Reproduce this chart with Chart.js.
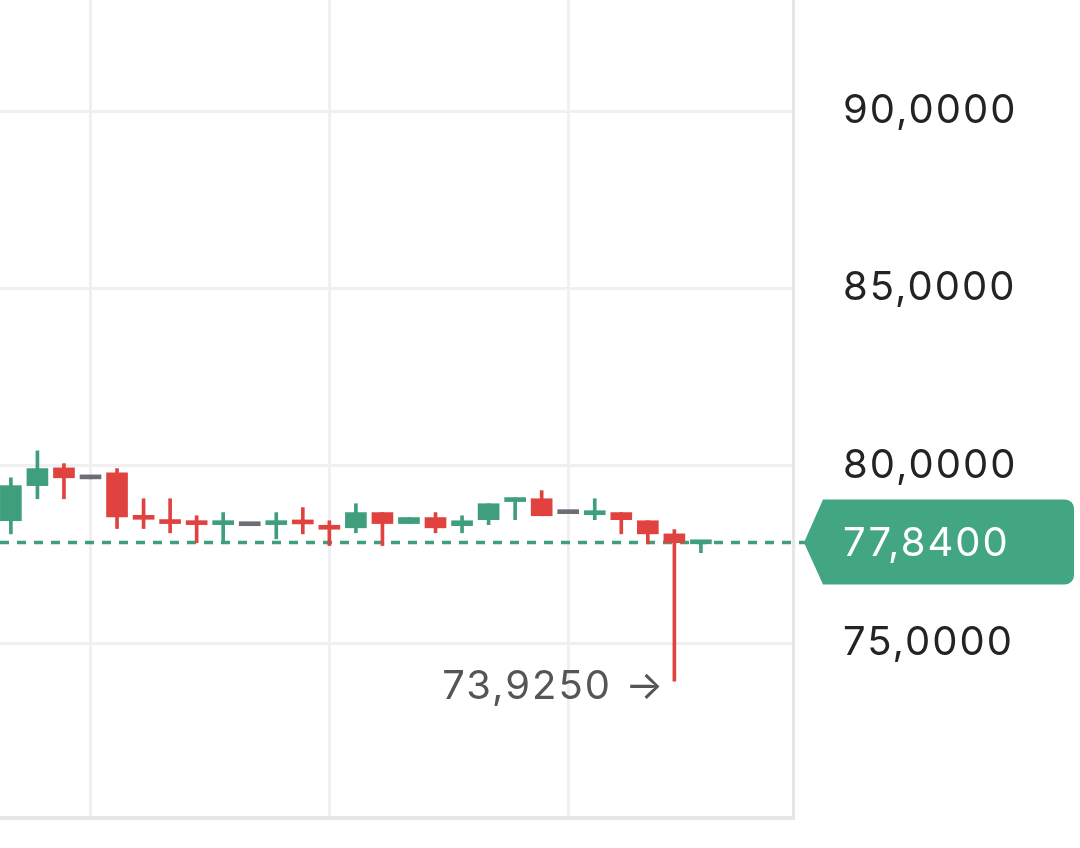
<!DOCTYPE html>
<html>
<head>
<meta charset="utf-8">
<script src="https://cdn.jsdelivr.net/npm/chart.js@4.4.1/dist/chart.umd.min.js"></script>
<style>
  html, body { margin: 0; padding: 0; background: #fff; }
</style>
</head>
<body>
<canvas id="candleChart" width="1080" height="848"></canvas>
<script>
// candle data (index = bar slot)
const candleIdx = [0, 1, 2, 3, 4, 5, 6, 7, 8, 9, 10, 11, 12, 13, 14, 15, 16, 17, 18, 19, 20, 21, 22, 23, 24, 25, 26];
const opens  = [78.45, 79.44, 79.94, 79.63, 79.80, 78.56, 78.45, 78.42, 78.34, 78.31, 78.34, 78.43, 78.28, 78.25, 78.68, 78.37, 78.54, 78.31, 78.48, 78.99, 79.07, 78.65, 78.62, 78.68, 78.45, 78.08, 77.80];
const closes = [79.44, 79.92, 79.66, 79.63, 78.56, 78.49, 78.37, 78.34, 78.40, 78.31, 78.40, 78.36, 78.21, 78.68, 78.37, 78.54, 78.25, 78.45, 78.93, 79.10, 78.59, 78.65, 78.68, 78.48, 78.08, 77.83, 77.84];
const highs  = [79.66, 80.42, 80.06, 79.63, 79.92, 79.07, 79.07, 78.59, 78.68, 78.31, 78.68, 78.82, 78.45, 78.93, 78.68, 78.54, 78.68, 78.59, 78.93, 79.10, 79.30, 78.65, 79.07, 78.68, 78.45, 78.20, 77.84];
const lows   = [78.08, 79.07, 79.07, 79.63, 78.23, 78.23, 78.11, 77.83, 77.83, 78.31, 77.94, 78.08, 77.75, 78.11, 77.75, 78.37, 78.11, 78.11, 78.34, 78.48, 78.59, 78.65, 78.48, 78.08, 77.80, 73.925, 77.55];
const lastPrice = 77.84;
const yTicks = [75, 80, 85, 90];
const xGridIdx = [3, 12, 21];

const GREEN = '#3f9f7c';
const RED = '#e0433f';
const GRAY = '#6d6d76';
const GRID = '#f0f0f3';
const FONT = 'Inter';
const FONT_SIZE = 40;

function fmt(v) {
  return v.toFixed(4).replace('.', ',');
}

function candleColor(i) {
  if (closes[i] > opens[i]) return GREEN;
  if (closes[i] < opens[i]) return RED;
  return GRAY;
}

const colors = candleIdx.map(candleColor);

const priceMarks = {
  id: 'priceMarks',
  beforeDraw(chart) {
    // the reference glyphs run a bit wider than Inter
    chart.ctx.letterSpacing = '2px';
  },
  beforeDatasetsDraw(chart) {
    const {ctx, chartArea, scales: {y}} = chart;
    const py = y.getPixelForValue(lastPrice);
    ctx.save();
    ctx.strokeStyle = GREEN;
    ctx.lineWidth = 3.5;
    ctx.setLineDash([9, 8]);
    ctx.beginPath();
    ctx.moveTo(chartArea.left, py);
    ctx.lineTo(chartArea.right + 12, py);
    ctx.stroke();
    ctx.restore();
  },
  afterDraw(chart) {
    const {ctx, chartArea, scales: {x, y}} = chart;
    const py = y.getPixelForValue(lastPrice);

    // price tag on the axis
    const tip = chartArea.right + 11;
    const base = tip + 19;
    const right = chart.width - 6;
    const top = py - 43, bottom = py + 42, r = 9;
    ctx.save();
    ctx.letterSpacing = '2px';
    ctx.fillStyle = '#43a682';
    ctx.beginPath();
    ctx.moveTo(tip, py);
    ctx.lineTo(base, top);
    ctx.lineTo(right - r, top);
    ctx.arcTo(right, top, right, top + r, r);
    ctx.lineTo(right, bottom - r);
    ctx.arcTo(right, bottom, right - r, bottom, r);
    ctx.lineTo(base, bottom);
    ctx.closePath();
    ctx.fill();
    ctx.fillStyle = '#fff';
    ctx.font = `${FONT_SIZE}px ${FONT}`;
    ctx.textAlign = 'left';
    ctx.textBaseline = 'middle';
    ctx.fillText(fmt(lastPrice), y.left + 50, py + 2);

    // minimum label
    let lo = 0;
    lows.forEach((v, i) => { if (v < lows[lo]) lo = i; });
    const lx = x.getPixelForValue(candleIdx[lo]);
    const ly = y.getPixelForValue(lows[lo]);
    ctx.fillStyle = '#555558';
    ctx.textAlign = 'right';
    ctx.fillText(fmt(lows[lo]) + ' \u2192', lx - 9, ly + 6);
    ctx.restore();
  }
};

new Chart(document.getElementById('candleChart'), {
  type: 'bar',
  data: {
    datasets: [{
      label: 'body',
      grouped: false,
      data: candleIdx.map(i => ({x: i, y: [opens[i], closes[i]]})),
      backgroundColor: colors,
      barThickness: 21,
      minBarLength: 4
    }, {
      label: 'wick',
      grouped: false,
      data: candleIdx.map(i => ({x: i, y: [lows[i], highs[i]]})),
      backgroundColor: colors,
      barThickness: 3
    }]
  },
  options: {
    responsive: false,
    animation: false,
    devicePixelRatio: 1,
    layout: {padding: {top: 0, right: 0, bottom: 30, left: 0}},
    plugins: {legend: {display: false}, tooltip: {enabled: false}},
    scales: {
      x: {
        type: 'linear',
        min: -0.41,
        max: 29.47,
        offset: false,
        grid: {offset: false, color: GRID, lineWidth: 3, drawTicks: false},
        border: {display: true, color: '#e6e6ea', width: 4},
        ticks: {display: false},
        afterBuildTicks: s => { s.ticks = xGridIdx.map(v => ({value: v})); }
      },
      y: {
        position: 'right',
        min: 70.07,
        max: 93.13,
        grid: {color: GRID, lineWidth: 3, drawTicks: false},
        border: {display: true, color: '#e6e6ea', width: 3},
        ticks: {
          padding: 50,
          color: '#232326',
          font: {family: FONT, size: FONT_SIZE},
          callback: v => fmt(v)
        },
        afterBuildTicks: s => { s.ticks = yTicks.map(v => ({value: v})); },
        afterFit: s => {
          s.width = 287;
          s.paddingTop = 0;
          s.paddingBottom = 0;
        }
      }
    }
  },
  plugins: [priceMarks]
});
</script>
</body>
</html>
